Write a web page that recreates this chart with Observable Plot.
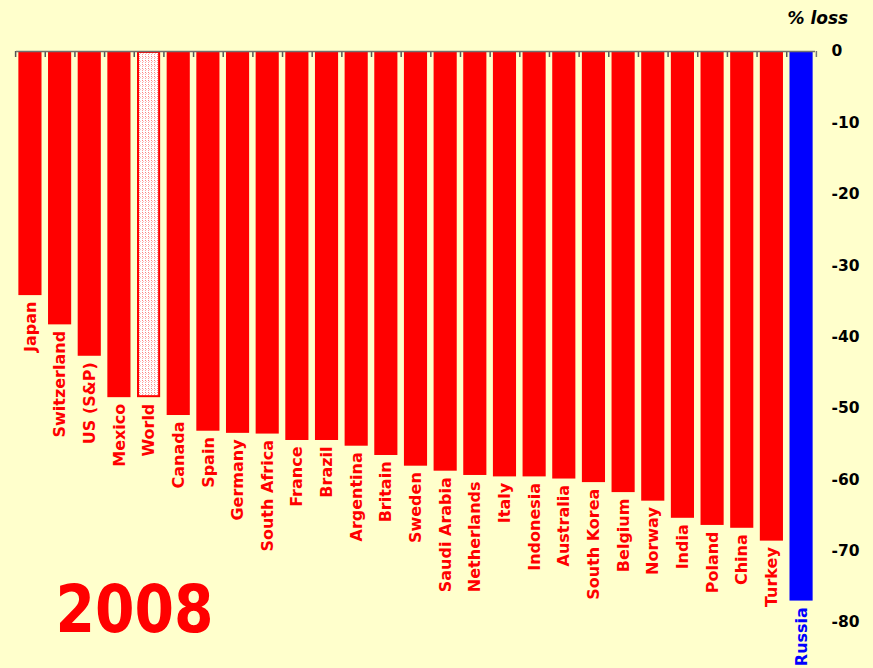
<!DOCTYPE html>
<html><head><meta charset="utf-8">
<script src="https://cdn.jsdelivr.net/npm/d3@7"></script>
<script src="https://cdn.jsdelivr.net/npm/@observablehq/plot@0.6"></script>
<style>html,body{margin:0;padding:0;background:#FFFFCC;}</style>
</head><body><div id="chart"></div>
<script>
// ---- data ----
const countries = ["Japan","Switzerland","US (S&P)","Mexico","World","Canada","Spain","Germany","South Africa","France","Brazil","Argentina","Britain","Sweden","Saudi Arabia","Netherlands","Italy","Indonesia","Australia","South Korea","Belgium","Norway","India","Poland","China","Turkey","Russia"];
const losses = [-34.2,-38.3,-42.7,-48.5,-48.5,-51.0,-53.2,-53.5,-53.6,-54.5,-54.5,-55.3,-56.6,-58.1,-58.8,-59.4,-59.6,-59.6,-59.9,-60.4,-61.8,-63.0,-65.4,-66.4,-66.8,-68.6,-77.0];
const yTicks = [0,-10,-20,-30,-40,-50,-60,-70,-80];
const unitLabel = "% loss";
const yearLabel = "2008";
const highlight = "Russia";
const aggregate = "World";

const data = countries.map((c, i) => ({country: c, loss: losses[i]}));
const W = 873, H = 668, ml = 16, mr = 58, mt = 51, mb = 46;
const pIn = 0.22, pOut = 0.08;
const step = (W - ml - mr) / (countries.length - pIn + 2 * pOut);
const RED = "#FF0000", BLUE = "#0000FF";
const colorOf = c => c === highlight ? BLUE : RED;
const font = "'DejaVu Sans', Verdana, sans-serif";

const chart = Plot.plot({
  width: W, height: H,
  marginLeft: ml, marginRight: mr, marginTop: mt, marginBottom: mb,
  style: {background: "#FFFFCC", fontFamily: font, fontSize: "15.5px", fontWeight: "bold", color: "#000"},
  x: {domain: countries, paddingInner: pIn, paddingOuter: pOut, round: false, axis: null},
  y: {domain: [-80, 0], axis: "right", ticks: yTicks, tickSize: 0, tickPadding: 16, tickFormat: d => String(d), label: null},
  color: {type: "identity"},
  marks: [
    Plot.barY(data.filter(d => d.country !== aggregate), {x: "country", y: "loss", fill: d => colorOf(d.country)}),
    Plot.barY(data.filter(d => d.country === aggregate), {x: "country", y: "loss", fill: "url(#dots)", stroke: RED, strokeWidth: 2, inset: 1}),
    Plot.tickX(countries, {x: d => d, dx: -step / 2, insetBottom: H - mt - mb - 6, stroke: "#555", strokeWidth: 1.5}),
    Plot.tickX([countries[countries.length - 1]], {x: d => d, dx: step / 2, insetBottom: H - mt - mb - 6, stroke: "#777", strokeWidth: 1.5}),
    Plot.ruleY([0], {stroke: "#707070", strokeWidth: 1.5}),
    Plot.text(data, {x: "country", y: "loss", text: "country", rotate: -90, textAnchor: "end", dy: 6, fill: d => colorOf(d.country), fontSize: 16, fontWeight: "bold"}),
    Plot.text([unitLabel], {frameAnchor: "top-right", textAnchor: "start", dx: -28, dy: -40, fontSize: 17, fontStyle: "italic", fontWeight: "bold", fill: "#000"}),
    Plot.text([yearLabel], {frameAnchor: "bottom-left", textAnchor: "start", lineAnchor: "bottom", dx: 39, dy: 9, fontSize: 66, fontWeight: "bold", fill: RED})
  ]
});

const svg = d3.select(chart);
// squeeze the year label to the reference's narrower bold face
svg.selectAll("text").filter(function() { return this.textContent === yearLabel; })
  .attr("textLength", 158).attr("lengthAdjust", "spacingAndGlyphs");

// pattern for the aggregate bar
const defs = svg.insert("defs", ":first-child");
const pat = defs.append("pattern").attr("id", "dots").attr("width", 3).attr("height", 4).attr("patternUnits", "userSpaceOnUse");
pat.append("rect").attr("width", 3).attr("height", 4).attr("fill", "#FFFFFF");
pat.append("rect").attr("x", 1).attr("y", 0).attr("width", 1).attr("height", 1).attr("fill", "#FF8080");
pat.append("rect").attr("x", 1).attr("y", 2).attr("width", 1).attr("height", 1).attr("fill", "#FFA0A0");
pat.append("rect").attr("x", 2).attr("y", 1).attr("width", 1).attr("height", 1).attr("fill", "#FFC0C0");

document.getElementById("chart").appendChild(chart);
</script>
</body></html>
